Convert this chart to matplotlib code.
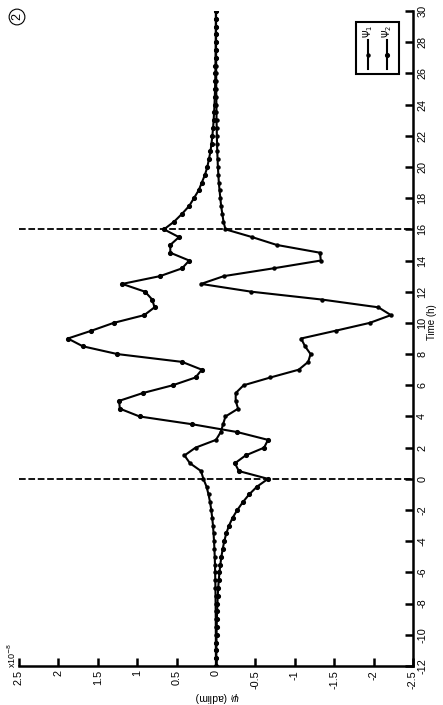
import matplotlib
matplotlib.use("Agg")
import matplotlib.pyplot as plt
from matplotlib.patches import Rectangle
from matplotlib.lines import Line2D
from matplotlib.ticker import FuncFormatter

plt.rcParams['font.family'] = ['Liberation Sans', 'DejaVu Sans']
plt.rcParams['mathtext.fontset'] = 'dejavusans'
plt.rcParams['axes.unicode_minus'] = False

# ---------------- data (psi in units of 1e-8) ----------------
time_h = [-12, -11.5, -11, -10.5, -10, -9.5, -9, -8.5, -8, -7.5, -7, -6.5, -6, -5.5,
          -5, -4.5, -4, -3.5, -3, -2.5, -2, -1.5, -1, -0.5,
          0, 0.5, 1, 1.5, 2, 2.5, 3, 3.5, 4, 4.5, 5, 5.5, 6, 6.5, 7, 7.5,
          8, 8.5, 9, 9.5, 10, 10.5, 11, 11.5, 12, 12.5, 13, 13.5, 14, 14.5,
          15, 15.5, 16, 16.5, 17, 17.5, 18, 18.5, 19, 19.5, 20, 20.5, 21, 21.5,
          22, 22.5, 23, 23.5, 24, 24.5, 25, 25.5, 26, 26.5, 27, 27.5, 28, 28.5,
          29, 29.5, 30]

psi_1 = [0.001, 0.001, 0.002, 0.002, 0.002, 0.003, 0.003, 0.004, 0.005, 0.006, 0.007,
         0.009, 0.011, 0.013, 0.016, 0.020, 0.025, 0.031, 0.038, 0.048, 0.060, 0.075,
         0.095, 0.12,
         0.16, 0.19, 0.33, 0.40, 0.26, 0.0, -0.06, -0.09, -0.12, -0.28, -0.25, -0.25,
         -0.35, -0.69, -1.05, -1.17, -1.20, -1.13, -1.08, -1.52, -1.95, -2.22, -2.06,
         -1.34, -0.45, 0.19, -0.10, -0.73, -1.33, -1.32, -0.77, -0.46, -0.12,
         -0.095, -0.08, -0.065, -0.055, -0.045, -0.036, -0.030, -0.024, -0.020, -0.016,
         -0.013, -0.011, -0.009, -0.007, -0.006, -0.005, -0.004, -0.003, -0.003, -0.002,
         -0.002, -0.002, -0.001, -0.001, -0.001, -0.001, -0.001, -0.001]

psi_2 = [-0.003, -0.004, -0.005, -0.006, -0.007, -0.009, -0.011, -0.014, -0.018, -0.022,
         -0.028, -0.035, -0.044, -0.055, -0.068, -0.085, -0.105, -0.13, -0.165, -0.21,
         -0.27, -0.34, -0.42, -0.52,
         -0.66, -0.29, -0.24, -0.375, -0.61, -0.66, -0.27, 0.30, 0.97, 1.22, 1.23, 0.93,
         0.55, 0.26, 0.18, 0.43, 1.25, 1.69, 1.88, 1.58, 1.30, 0.91, 0.78, 0.81, 0.90,
         1.19, 0.71, 0.43, 0.34, 0.58, 0.58, 0.47, 0.66,
         0.53, 0.43, 0.34, 0.28, 0.22, 0.18, 0.14, 0.11, 0.09, 0.07, 0.057, 0.046, 0.037,
         0.030, 0.024, 0.019, 0.015, 0.012, 0.010, 0.008, 0.007, 0.006, 0.005, 0.004,
         0.003, 0.003, 0.002, 0.002]

events_h = [0, 16]
time_ticks = list(range(-12, 31, 2))
psi_ticks = [2.5, 2, 1.5, 1, 0.5, 0, -0.5, -1, -1.5, -2, -2.5]

W, H = 443, 705
fig = plt.figure(figsize=(W / 100, H / 100), dpi=100)

def fx(px):
    return px / W

def fy(py):
    return 1 - py / H

ax = fig.add_axes([fx(19), fy(666), fx(413) - fx(19), fy(11) - fy(666)])

ax.plot(psi_1, time_h, '-', color='black', lw=1.5, marker='o', ms=2.2, zorder=3)
ax.plot(psi_2, time_h, '-', color='black', lw=1.5, marker='o', ms=2.7, zorder=3)
for e in events_h:
    ax.axhline(e, color='black', lw=1.3, ls=(0, (3.7, 1.5)), zorder=2)

ax.set_xlim(2.5, -2.5)
ax.set_ylim(-12, 30)
ax.set_xticks(psi_ticks)
ax.set_yticks(time_ticks)
ax.xaxis.set_major_formatter(FuncFormatter(lambda v, p: '%g' % v))
ax.yaxis.tick_right()
for s in ['top', 'left']:
    ax.spines[s].set_visible(False)
for s in ['bottom', 'right']:
    ax.spines[s].set_linewidth(1.8)
ax.tick_params(axis='both', direction='in', length=6, width=1.8, labelsize=7.8, pad=3)
for lab in ax.get_xticklabels():
    lab.set_rotation(90)
    lab.set_va('top')
    lab.set_ha('center')
for lab in ax.get_yticklabels():
    lab.set_rotation(90)
    lab.set_va('center')
    lab.set_ha('left')

# axis labels (rotated layout)
fig.text(fx(432), fy(322), 'Time (h)', rotation=90, ha='center', va='center', fontsize=7)
fig.text(fx(217), fy(697), r'$\psi_i$ (adlim)', rotation=180, ha='center', va='center', fontsize=7.5)
fig.text(fx(12), fy(655), r'x10$^{-8}$', rotation=90, ha='center', va='center', fontsize=6.5)

# circled number
fig.text(fx(17), fy(17), '2', rotation=90, ha='center', va='center', fontsize=9,
         bbox=dict(boxstyle='circle,pad=0.15', fc='white', ec='black', lw=0.8))

# manual legend (rotated)
fig.patches.append(Rectangle((fx(356), fy(74)), fx(399) - fx(356), fy(22) - fy(74),
                             transform=fig.transFigure, fc='white', ec='black', lw=1.5, zorder=5))
for xp, ms, lab in [(368, 2.2, r'$\Psi_1$'), (387, 2.7, r'$\Psi_2$')]:
    fig.lines.append(Line2D([fx(xp), fx(xp)], [fy(69), fy(40)], transform=fig.transFigure,
                            color='black', lw=1.5, zorder=6))
    fig.lines.append(Line2D([fx(xp)], [fy(55)], transform=fig.transFigure, color='black',
                            marker='o', ms=ms, zorder=6))
    fig.text(fx(xp), fy(31), lab, rotation=90, ha='center', va='center', fontsize=7, zorder=7)

fig.savefig('out.png', dpi=100)
